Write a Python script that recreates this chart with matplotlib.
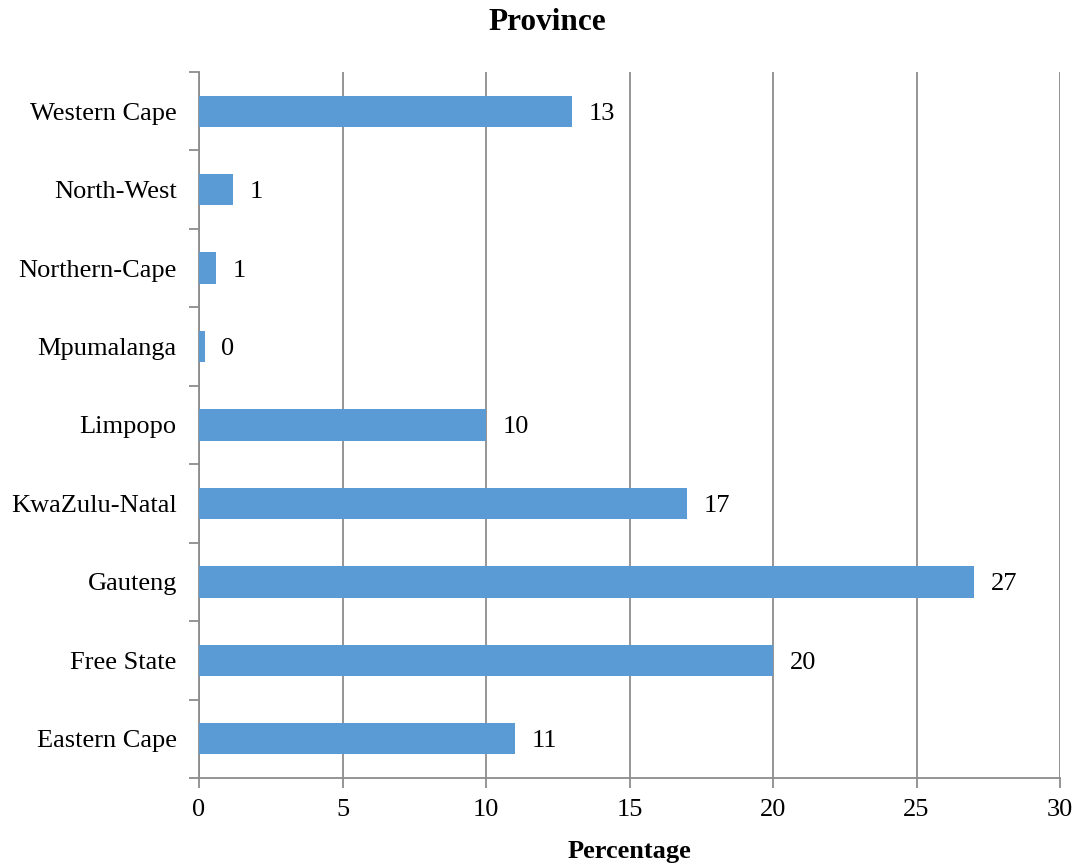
import numpy as np
import matplotlib.pyplot as plt

provinces = ['Eastern Cape', 'Free State', 'Gauteng', 'KwaZulu-Natal', 'Limpopo',
             'Mpumalanga', 'Northern-Cape', 'North-West', 'Western Cape']
percentage = [11, 20, 27, 17, 10, 0.2, 0.6, 1.2, 13]

bar_col = '#5b9bd5'
grid_col = '#8c8c8c'

plt.rcParams['font.family'] = ['Liberation Serif', 'DejaVu Serif']

fig = plt.figure(figsize=(10.8, 8.63), dpi=100)
ax = fig.add_axes([0.1843, 0.0985, 0.7972, 0.8181])

y = np.arange(len(provinces))
ax.barh(y, percentage, height=0.4, color=bar_col, zorder=3)
for yi, v in zip(y, percentage):
    ax.annotate('%.0f' % v, (v, yi), xytext=(12, 0), textcoords='offset points',
                va='center_baseline', ha='left', fontsize=19)

ax.set_xlim(0, 30)
ax.set_ylim(-0.5, len(provinces) - 0.5)
ax.set_xticks(range(0, 31, 5))
ax.set_yticks(y)
ax.set_yticklabels(provinces)
ax.set_yticks(np.arange(-0.5, len(provinces), 1), minor=True)

ax.grid(axis='x', color=grid_col, lw=1.3, zorder=0)
ax.tick_params(axis='y', which='major', length=0, pad=16, labelsize=19)
ax.tick_params(axis='y', which='minor', length=7, color=grid_col, width=1.3)
ax.tick_params(axis='x', length=7, color=grid_col, width=1.3, labelsize=19, pad=8)

for s in ['top', 'right']:
    ax.spines[s].set_visible(False)
for s in ['left', 'bottom']:
    ax.spines[s].set_color(grid_col)
    ax.spines[s].set_linewidth(1.3)

fig.text(547 / 1080, 1 - 22 / 863, 'Province', fontsize=22.5, fontweight='bold',
         ha='center', va='center')
ax.set_xlabel('Percentage', fontsize=19, fontweight='bold', labelpad=14)

fig.savefig('out.png', dpi=100)
